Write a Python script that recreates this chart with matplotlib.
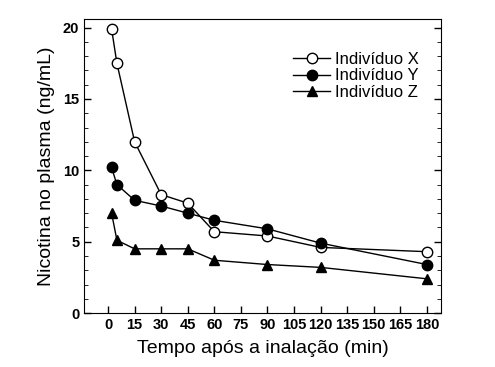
import matplotlib.pyplot as plt

plt.rcParams['font.family'] = ['Liberation Sans', 'DejaVu Sans']

tempo = [2, 5, 15, 30, 45, 60, 90, 120, 180]
ind_x = [19.9, 17.5, 12.0, 8.3, 7.7, 5.7, 5.4, 4.6, 4.3]
ind_y = [10.2, 9.0, 7.9, 7.5, 7.0, 6.5, 5.9, 4.9, 3.4]
ind_z = [7.0, 5.1, 4.5, 4.5, 4.5, 3.7, 3.4, 3.2, 2.4]

xticks = list(range(0, 181, 15))
yticks = [0, 5, 10, 15, 20]

fig = plt.figure(figsize=(4.95, 3.67), dpi=100)
ax = fig.add_axes([0.17, 0.147, 0.721, 0.801])

ax.plot(tempo, ind_x, '-o', color='black', mfc='white', mec='black', ms=7.5, lw=1, label='Indivíduo X')
ax.plot(tempo, ind_y, '-o', color='black', ms=7.5, lw=1, label='Indivíduo Y')
ax.plot(tempo, ind_z, '-^', color='black', ms=7.5, lw=1, label='Indivíduo Z')

ax.set_xlim(-13.5, 188)
ax.set_ylim(0, 20.6)
ax.set_xticks(xticks)
ax.set_yticks(yticks)
ax.set_yticks(range(0, 21), minor=True)
ax.tick_params(axis='both', direction='in', labelsize=10.5, width=1, length=5)
ax.tick_params(axis='y', which='both', right=True)
ax.tick_params(axis='y', which='minor', direction='in', length=3)
for lab in ax.get_xticklabels() + ax.get_yticklabels():
    lab.set_fontweight('bold')
    lab.set_fontstretch('condensed')

ax.set_xlabel('Tempo após a inalação (min)', fontsize=14, labelpad=6)
ax.set_ylabel('Nicotina no plasma (ng/mL)', fontsize=14, labelpad=6)

ax.legend(loc='upper right', frameon=False, fontsize=12, handlelength=2.2,
          handletextpad=0.3, labelspacing=0.1, bbox_to_anchor=(0.98, 0.94))

fig.savefig('out.png', dpi=100)
